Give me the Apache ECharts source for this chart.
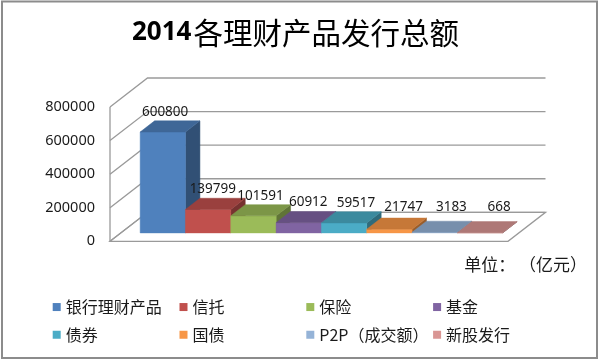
<!DOCTYPE html>
<html><head><meta charset="utf-8">
<script src="https://cdn.jsdelivr.net/npm/echarts@6/dist/echarts.min.js"></script>
<style>html,body{margin:0;padding:0;background:#fff}#c{width:600px;height:361px}</style>
</head><body><div id="c"></div>
<script>
// ---- data ----
const categories = ['银行理财产品', '信托', '保险', '基金', '债券', '国债', 'P2P（成交额）', '新股发行'];
const values = [600800, 139799, 101591, 60912, 59517, 21747, 3183, 668];
const colors = ['#4F81BD', '#C0504D', '#9BBB59', '#8064A2', '#4BACC6', '#F79646', '#95B3D7', '#D99694'];
const yTicks = [0, 200000, 400000, 600000, 800000];
const titleParts = ['2014', '各理财产品发行总额'];
const unitText = '单位： （亿元）';

// ---- style / geometry constants ----
const DX = 37.5, DY = -29;          // depth vector of the 3D box
const F1 = 0.29, F2 = 0.675;        // bar depth start/end fraction
const ML = 19.3, MR = 16.2;         // wall margins beyond bar range
const CJK = '"Noto Sans CJK SC", "Noto Sans", sans-serif';
const NUM = '"Noto Sans", "Liberation Sans", sans-serif';

function shade(hex, f) {
  const n = parseInt(hex.slice(1), 16);
  const r = Math.round(((n >> 16) & 255) * f), g = Math.round(((n >> 8) & 255) * f), b = Math.round((n & 255) * f);
  return 'rgb(' + r + ',' + g + ',' + b + ')';
}

const wallSeries = {
  type: 'custom', name: '_walls', z: 1, silent: true,
  data: yTicks.map(v => [0, v]),
  renderItem: function (params, api) {
    const cs = params.coordSys;
    const v = api.value(1);
    const y = api.coord([0, v])[1];
    const xl = cs.x - ML, xr = cs.x + cs.width + MR;
    const lineStyle = { stroke: '#9a9a9a', lineWidth: 1.3, fill: null };
    const children = [];
    if (params.dataIndex === 0) {
      children.push({ type: 'polygon', shape: { points: [[xl, y], [xr, y], [xr + DX, y + DY], [xl + DX, y + DY]] },
        style: { fill: '#fff', stroke: '#9a9a9a', lineWidth: 1.3 } });
      const yTop = api.coord([0, yTicks[yTicks.length - 1]])[1];
      children.push({ type: 'line', shape: { x1: xl, y1: y, x2: xl, y2: yTop }, style: lineStyle });
    }
    children.push({ type: 'polyline', shape: { points: [[xl, y], [xl + DX, y + DY], [xr + DX, y + DY]] }, style: lineStyle });
    return { type: 'group', children: children };
  }
};

const barSeries = categories.map((name, i) => ({
  type: 'custom', name: name, z: 2 + i,
  itemStyle: { color: colors[i] },
  data: [[i, values[i]]],
  renderItem: function (params, api) {
    const cs = params.coordSys;
    const idx = api.value(0), v = api.value(1);
    const p0 = api.coord([idx, 0]);
    const pv = api.coord([idx, v]);
    const bw = api.size([1, 0])[0];
    const xl = p0[0] - bw / 2, xr = p0[0] + bw / 2;
    const y0 = p0[1], yv = pv[1];
    const ax = F1 * DX, ay = F1 * DY, bx = F2 * DX, by = F2 * DY;
    const c = colors[i];
    const front = [[xl + ax, y0 + ay], [xr + ax, y0 + ay], [xr + ax, yv + ay], [xl + ax, yv + ay]];
    const top = [[xl + ax, yv + ay], [xr + ax, yv + ay], [xr + bx, yv + by], [xl + bx, yv + by]];
    const side = [[xr + ax, y0 + ay], [xr + bx, y0 + by], [xr + bx, yv + by], [xr + ax, yv + ay]];
    const cx = cs.x + cs.width / 2;
    const topCx = p0[0] + (F1 + F2) / 2 * DX;
    const lx = cx + (topCx - cx) * 1.053 + 2.5;
    const ly = Math.min(yv + by - 9, y0 + DY - 5.5);
    return { type: 'group', children: [
      { type: 'polygon', shape: { points: side }, style: { fill: shade(c, 0.62), stroke: shade(c, 0.62), lineWidth: 0.5 } },
      { type: 'polygon', shape: { points: front }, style: { fill: c, stroke: c, lineWidth: 0.5 } },
      { type: 'polygon', shape: { points: top }, style: { fill: shade(c, 0.8), stroke: shade(c, 0.8), lineWidth: 0.5 } },
      { type: 'text', z2: 10, style: { text: String(values[i]), x: lx, y: ly, align: 'center', verticalAlign: 'middle',
        font: '13.5px ' + NUM, fill: '#1a1a1a' } }
    ] };
  }
}));

const chart = echarts.init(document.getElementById('c'), null, { renderer: 'canvas' });
chart.setOption({
  animation: false,
  backgroundColor: '#fff',
  grid: { left: 129.3, top: 107, width: 362.5, height: 134.3, containLabel: false },
  xAxis: { type: 'category', data: categories, show: false, boundaryGap: true },
  yAxis: {
    type: 'value', min: 0, max: 800000, interval: 200000,
    axisLine: { show: false }, axisTick: { show: false }, splitLine: { show: false },
    axisLabel: { margin: 34.3, fontSize: 14.5, fontFamily: NUM, color: '#1a1a1a', formatter: v => String(v) }
  },
  legend: {
    data: categories, left: 52.7, top: 293.2, width: 520, padding: 0,
    icon: 'rect', itemWidth: 8, itemHeight: 8, itemGap: 0,
    textStyle: { fontSize: 16, fontFamily: CJK, color: '#1a1a1a', width: 113.8, lineHeight: 27.7 }
  },
  graphic: [
    { type: 'rect', shape: { x: 2, y: 1.5, width: 595, height: 356.5 }, style: { fill: null, stroke: '#8c8c8c', lineWidth: 2 }, silent: true },
    { type: 'text', left: 132, top: 18, style: {
        text: '{a|' + titleParts[0] + '}{b|' + titleParts[1] + '}',
        rich: {
          a: { font: 'bold 26px ' + NUM, fill: '#000', lineHeight: 34, padding: [0, 2, 0, 0] },
          b: { font: 'normal 29.5px ' + CJK, fill: '#000', lineHeight: 34 }
        } } },
    { type: 'text', right: 13, top: 256, style: { text: unitText, font: '17px ' + CJK, fill: '#1a1a1a' } }
  ],
  series: [wallSeries].concat(barSeries)
});
</script>
</body></html>
